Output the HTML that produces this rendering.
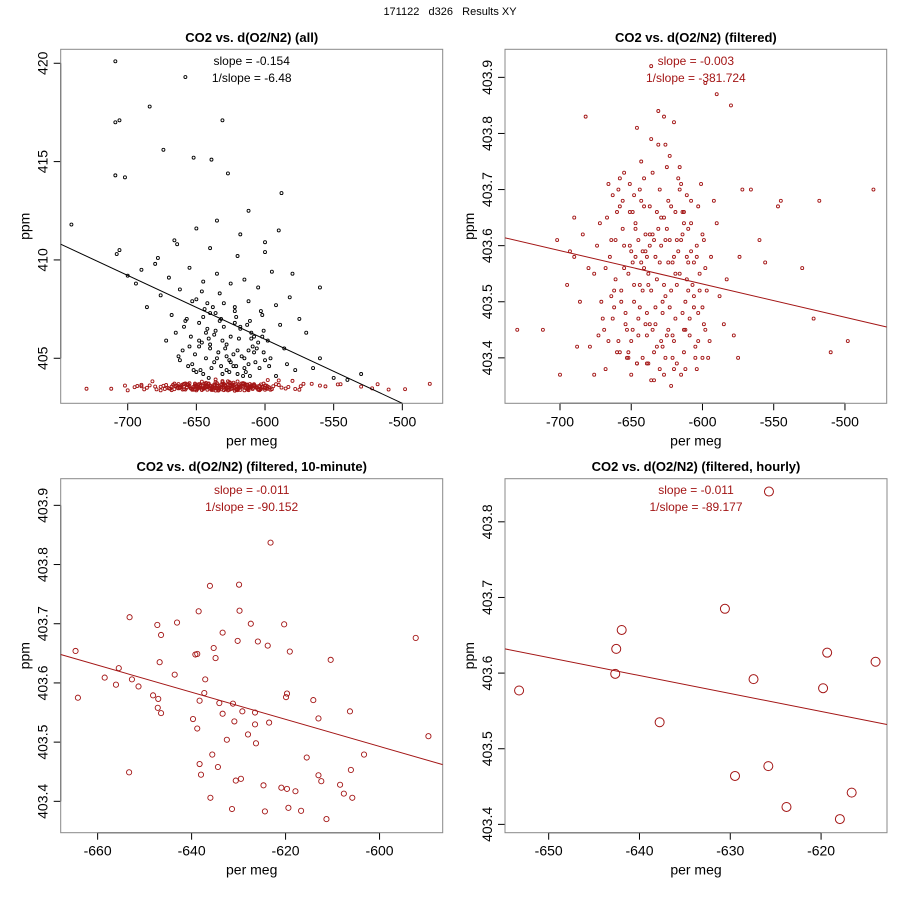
<!DOCTYPE html>
<html><head><meta charset="utf-8"><style>
html,body{margin:0;padding:0;background:#fff}
svg{display:block;font-family:"Liberation Sans",Arial,sans-serif}
</style></head><body>
<svg id="c" width="900" height="900" viewBox="0 0 900 900"></svg>
<script>
// ---------- data ----------
const filtX = [-652,-640,-628,-615,-605,-660,-645,-633,-622,-610,
-670,-655,-638,-626,-612,-598,-665,-648,-636,-620,
-684,-642,-631,-618,-606,-592,-658,-644,-629,-617,
-676,-663,-650,-637,-624,-611,-600,-588,-646,-632,
-668,-654,-641,-627,-614,-603,-690,-679,-635,-621,
-661,-649,-639,-630,-619,-608,-596,-672,-657,-643,
-634,-625,-613,-602,-666,-653,-647,-638,-623,-609,
-686,-674,-659,-651,-640,-628,-616,-604,-594,-645,
-631,-622,-611,-600,-662,-650,-637,-626,-614,-642,
-656,-644,-633,-620,-608,-598,-669,-648,-636,-624,
-680,-664,-652,-639,-627,-615,-605,-590,-658,-646,
-634,-621,-610,-603,-667,-654,-641,-629,-618,-612,
-649,-637,-625,-613,-660,-643,-632,-619,-606,-595,
-655,-639,-628,-617,-604,-671,-651,-640,-630,-623,
-480,-498,-510,-522,-518,-530,-545,-547,-556,-560,
-566,-572,-580,-590,-598,-730,-712,-700,-702,-695,
-690,-682,-676,-585,-578,-574,-583,-688,-693,-575,
-636,-627,-620];
const filtY = [403.55,403.62,403.48,403.71,403.40,403.66,403.44,403.58,403.52,403.63,
403.47,403.73,403.39,403.61,403.50,403.45,403.58,403.69,403.36,403.43,
403.62,403.52,403.78,403.39,403.57,403.68,403.41,403.49,403.65,403.72,
403.55,403.69,403.37,403.60,403.45,403.54,403.62,403.51,403.81,403.42,
403.38,403.46,403.67,403.53,403.66,403.48,403.58,403.42,403.73,403.57,
403.61,403.57,403.44,403.70,403.47,403.59,403.40,403.64,403.50,403.75,
403.36,403.63,403.41,403.55,403.71,403.40,403.63,403.53,403.76,403.44,
403.50,403.60,403.43,403.66,403.59,403.42,403.55,403.38,403.58,403.47,
403.84,403.35,403.69,403.49,403.52,403.59,403.67,403.51,403.48,403.40,
403.63,403.70,403.46,403.58,403.64,403.56,403.45,403.53,403.79,403.68,
403.56,403.51,403.40,403.48,403.37,403.61,403.42,403.64,403.72,403.39,
403.61,403.44,403.52,403.67,403.65,403.48,403.56,403.60,403.53,403.38,
403.45,403.62,403.74,403.45,403.41,403.68,403.54,403.66,403.51,403.43,
403.60,403.39,403.50,403.59,403.58,403.50,403.71,403.46,403.57,403.49,
403.70,403.43,403.41,403.47,403.68,403.56,403.68,403.67,403.57,403.61,
403.70,403.70,403.85,403.87,403.89,403.45,403.45,403.37,403.61,403.53,
403.65,403.83,403.37,403.46,403.44,403.58,403.54,403.42,403.59,403.40,
403.92,403.83,403.82];
const filtX2 = [-657,-647,-634,-624,-613,-603,-662,-651,-641,-630,
-619,-609,-599,-668,-656,-646,-635,-625,-616,-607,
-653,-643,-632,-621,-611,-601,-664,-650,-638,-627,
-615,-604,-659,-648,-637,-626,-614,-602,-666,-655,
-645,-633,-622,-612,-600,-661,-649,-639,-629,-618,
-608,-597,-663,-652,-642,-631,-620,-610,-599,-658,
-644,-635,-623,-616,-606,-673,-647,-636,-626,-613];
const filtY2 = [403.52,403.64,403.41,403.57,403.66,403.43,403.49,403.60,403.72,403.38,
403.55,403.47,403.61,403.56,403.68,403.39,403.62,403.44,403.70,403.53,
403.45,403.57,403.66,403.40,403.58,403.71,403.61,403.43,403.55,403.65,
403.37,403.60,403.70,403.50,403.46,403.78,403.62,403.52,403.43,403.56,
403.61,403.49,403.67,403.45,403.40,403.54,403.66,403.58,403.43,403.61,
403.68,403.52,403.47,403.41,403.59,403.63,403.38,403.57,403.46,403.67,
403.53,403.45,403.61,403.74,403.49,403.44,403.58,403.52,403.40,403.64];
const allX = [-709,-658,-684,-706,-709,-674,-631,-652,-639,-709,
-702,-627,-588,-741,-706,-708,-664,-640,-620,-600,
-690,-680,-670,-655,-645,-635,-625,-615,-605,-595,
-676,-662,-650,-642,-633,-622,-612,-603,-592,-582,
-668,-657,-648,-640,-630,-621,-611,-601,-589,-575,
-665,-654,-646,-637,-628,-619,-609,-598,-586,-570,
-660,-651,-643,-634,-626,-617,-607,-596,-584,-560,
-656,-647,-639,-631,-623,-614,-604,-592,-578,-550,
-672,-659,-644,-636,-629,-618,-608,-597,-640,-625,
-686,-694,-700,-662,-645,-612,-602,-565,-540,-530,
-653,-641,-632,-620,-610,-637,-628,-615,-648,-622,
-678,-666,-650,-635,-618,-600,-590,-580,-560,-612];
const allY = [420.1,419.3,417.8,417.1,417.0,415.6,417.1,415.2,415.1,414.3,
414.2,414.4,413.4,411.8,410.5,410.3,410.8,410.6,410.2,410.9,
409.5,409.8,409.1,409.6,408.9,409.3,408.8,409.0,408.6,409.4,
408.2,408.5,408.0,407.8,408.3,407.6,407.9,407.4,407.7,408.1,
407.2,407.0,406.8,407.3,406.6,407.1,406.9,406.4,406.7,407.0,
406.3,406.1,405.8,406.2,405.7,406.0,405.6,405.9,405.5,406.3,
405.4,405.2,405.0,405.3,404.9,405.1,404.8,405.0,404.7,405.0,
404.6,404.4,404.5,404.2,404.6,404.3,404.5,404.1,404.4,404.0,
405.9,406.6,407.5,406.4,405.5,406.5,406.1,404.6,405.7,404.8,
407.6,408.8,409.2,404.9,404.2,405.4,407.2,404.5,403.9,404.2,
407.9,406.0,407.0,405.4,406.3,404.8,404.4,405.0,405.6,406.8,
410.1,411.0,411.6,412.0,411.3,410.4,411.5,409.3,408.6,412.5];
const allX2 = [-658,-648,-638,-628,-618,-608,-652,-642,-632,-622,
-612,-602,-655,-645,-635,-625,-615,-605,-650,-640,
-630,-620,-610,-600,-663,-653,-643,-633,-623,-613,
-646,-636,-626,-616,-606,-641,-631,-621,-611,-601];
const allY2 = [406.9,405.9,407.6,405.1,406.6,405.3,404.4,406.5,404.6,407.4,
404.7,406.1,405.6,407.1,405.0,406.1,404.5,405.8,404.3,405.5,
407.8,404.2,406.0,404.9,405.1,404.7,406.3,406.9,405.2,406.7,
408.4,407.3,404.3,404.1,405.5,404.0,405.9,404.6,404.1,405.3];
const tenX = [-623.2,-636.1,-629.9,-638.5,-629.8,-653.2,-647.3,-643.1,-627.4,-620.3,
-646.5,-633.4,-630.2,-625.9,-623.8,-592.3,-664.7,-635.3,-639.2,-638.8,
-619.1,-634.9,-646.8,-610.4,-655.5,-643.6,-658.5,-652.7,-637.1,-656.1,
-651.3,-637.3,-619.7,-619.9,-664.2,-648.2,-647.1,-638.3,-614.1,-634.1,
-631.2,-647.2,-646.5,-629.2,-626.5,-633.4,-606.3,-613.0,-639.7,-630.9,
-623.5,-626.5,-638.8,-589.6,-628.0,-632.5,-626.3,-635.6,-603.3,-615.5,
-638.3,-634.4,-653.3,-606.1,-638.0,-613.0,-630.6,-629.5,-612.4,-624.7,
-608.4,-620.9,-619.7,-617.9,-607.6,-636.0,-605.8,-631.4,-624.4,-619.4,
-616.7,-611.3];
const tenY = [403.837,403.764,403.766,403.721,403.722,403.711,403.698,403.702,403.700,403.699,
403.681,403.685,403.671,403.670,403.663,403.676,403.654,403.659,403.648,403.649,
403.653,403.642,403.635,403.639,403.625,403.614,403.609,403.606,403.606,403.597,
403.594,403.583,403.582,403.576,403.575,403.579,403.573,403.570,403.571,403.566,
403.565,403.558,403.549,403.552,403.550,403.548,403.552,403.540,403.539,403.535,
403.533,403.530,403.523,403.510,403.513,403.504,403.498,403.479,403.479,403.474,
403.463,403.458,403.449,403.453,403.445,403.444,403.435,403.438,403.434,403.427,
403.428,403.423,403.421,403.417,403.413,403.406,403.406,403.387,403.383,403.389,
403.384,403.370];
const hourX = [-653.26,-625.74,-630.59,-641.96,-642.56,-642.67,-637.78,-627.44,-619.33,-614.0,-619.78,-629.48,-625.81,-623.81,-616.63,-617.93];
const hourY = [403.577,403.840,403.685,403.657,403.632,403.599,403.535,403.592,403.627,403.615,403.580,403.464,403.477,403.423,403.442,403.407];
const fitAllY = [410.8,402.71];   const fitAllX = [-748.8,-500];
const fitFiltY = [403.614,403.455]; const fitFiltX = [-738.6,-470.7];
const fitTenY = [403.648,403.462];  const fitTenX = [-667.86,-586.56];
const fitHourY = [403.632,403.532]; const fitHourX = [-654.81,-612.74];
const ticksXTop = [-700,-650,-600,-550,-500];
const ticksYAll = [405,410,415,420];
const ticksYFilt = [403.4,403.5,403.6,403.7,403.8,403.9];
const ticksXTen = [-660,-640,-620,-600];
const ticksXHour = [-650,-640,-630,-620];
const ticksYHour = [403.4,403.5,403.6,403.7,403.8];

// ---------- drawing ----------
const NS='http://www.w3.org/2000/svg';
const svg=document.getElementById('c');
const RED='#a31515';
function mk(tag,attrs,parent){const e=document.createElementNS(NS,tag);for(const k in attrs)e.setAttribute(k,attrs[k]);(parent||svg).appendChild(e);return e;}
function txt(s,x,y,size,opts,parent){const t=mk('text',Object.assign({x:x,y:y,'font-size':size,'text-anchor':'middle','dominant-baseline':'central',fill:'#000'},opts||{}),parent);t.textContent=s;return t;}

const sup=txt('171122\u00a0\u00a0\u00a0d326\u00a0\u00a0\u00a0Results XY',450,12,11,{});



const fAllX=filtX.concat(filtX2), fAllY=filtY.concat(filtY2);
const uAllX=allX.concat(allX2), uAllY=allY.concat(allY2);

function panel(cfg){
  const g=mk('g',{});
  
  
  const [L,R,T,B]=cfg.box;
  const sx=v=>L+(v-cfg.xd[0])/(cfg.xd[1]-cfg.xd[0])*(R-L);
  const sy=v=>B-(v-cfg.yd[0])/(cfg.yd[1]-cfg.yd[0])*(B-T);
  const clipId='clip-'+cfg.name;
  const cp=mk('clipPath',{id:clipId},g);mk('rect',{x:L,y:T,width:R-L,height:B-T},cp);
  const t=txt(cfg.title,(L+R)/2,T-12,13,{'font-weight':'bold'},g);
  
  
  const ax=mk('g',{},g);
  
  
  mk('line',{x1:sx(cfg.xt[0]),x2:sx(cfg.xt[cfg.xt.length-1]),y1:B,y2:B,stroke:'#000','stroke-width':1},ax);
  cfg.xt.forEach(v=>{mk('line',{x1:sx(v),x2:sx(v),y1:B,y2:B+7,stroke:'#000'},ax);
    const l=txt(String(v),sx(v),B+18,14,{},ax);
    
    });
  const xl=txt('per meg',(L+R)/2,B+37,14,{},g);
  
  
  const ay=mk('g',{},g);
  
  
  mk('line',{x1:L,x2:L,y1:sy(cfg.yt[0]),y2:sy(cfg.yt[cfg.yt.length-1]),stroke:'#000'},ay);
  cfg.yt.forEach(v=>{mk('line',{x1:L-7,x2:L,y1:sy(v),y2:sy(v),stroke:'#000'},ay);
    const s=String(v);const lx=L-18,ly=sy(v);
    const l=txt(s,lx,ly,14,{transform:`rotate(-90 ${lx} ${ly})`},ay);
    
    });
  const yl=txt('ppm',L-36,(T+B)/2,14,{transform:`rotate(-90 ${L-36} ${(T+B)/2})`},g);
  
  
  mk('rect',{x:L,y:T,width:R-L,height:B-T,fill:'none',stroke:'#888','stroke-width':1},g);
  const pts=mk('g',{'clip-path':`url(#${clipId})`},g);
  
  
  cfg.series.forEach(s=>{s.x.forEach((xv,i)=>{
    const c=mk('circle',{cx:sx(xv),cy:sy(s.y[i]),r:s.r,fill:'none',stroke:s.col,'stroke-width':s.w},pts);
    
    });});
  const fl=mk('line',{x1:sx(cfg.fx[0]),y1:sy(cfg.fy[0]),x2:sx(cfg.fx[1]),y2:sy(cfg.fy[1]),stroke:cfg.lcol,'stroke-width':1,'clip-path':`url(#${clipId})`},g);
  
  
  const a1=txt(cfg.ann[0],(L+R)/2,T+11.5,12,{fill:cfg.lcol},g);
  
  
  const a2=txt(cfg.ann[1],(L+R)/2,T+28.5,12,{fill:cfg.lcol},g);
  
  
}
panel({name:'panel-all',title:'CO2 vs. d(O2/N2) (all)',box:[60.7,442.7,49.3,403.3],xd:[-748.8,-470.6],yd:[402.71,420.71],
  xt:ticksXTop,yt:ticksYAll,fx:fitAllX,fy:fitAllY,lcol:'#000',ann:['slope = -0.154','1/slope = -6.48'],
  series:[{x:uAllX,y:uAllY,r:1.5,col:'#000',w:0.9},{x:fAllX,y:fAllY,r:1.5,col:RED,w:0.9}]});
panel({name:'panel-filtered',title:'CO2 vs. d(O2/N2) (filtered)',box:[505,886.7,49.3,403.3],xd:[-738.6,-470.7],yd:[403.319,403.95],
  xt:ticksXTop,yt:ticksYFilt,fx:fitFiltX,fy:fitFiltY,lcol:RED,ann:['slope = -0.003','1/slope = -381.724'],
  series:[{x:fAllX,y:fAllY,r:1.5,col:RED,w:0.9}]});
panel({name:'panel-10-minute',title:'CO2 vs. d(O2/N2) (filtered, 10-minute)',box:[60.7,442.7,478.7,832.7],xd:[-667.86,-586.56],yd:[403.347,403.945],
  xt:ticksXTen,yt:ticksYFilt,fx:fitTenX,fy:fitTenY,lcol:RED,ann:['slope = -0.011','1/slope = -90.152'],
  series:[{x:tenX,y:tenY,r:2.6,col:RED,w:0.9}]});
panel({name:'panel-hourly',title:'CO2 vs. d(O2/N2) (filtered, hourly)',box:[505,887,478.7,832.7],xd:[-654.81,-612.74],yd:[403.389,403.857],
  xt:ticksXHour,yt:ticksYHour,fx:fitHourX,fy:fitHourY,lcol:RED,ann:['slope = -0.011','1/slope = -89.177'],
  series:[{x:hourX,y:hourY,r:4.5,col:RED,w:1}]});
</script>
</body></html>
